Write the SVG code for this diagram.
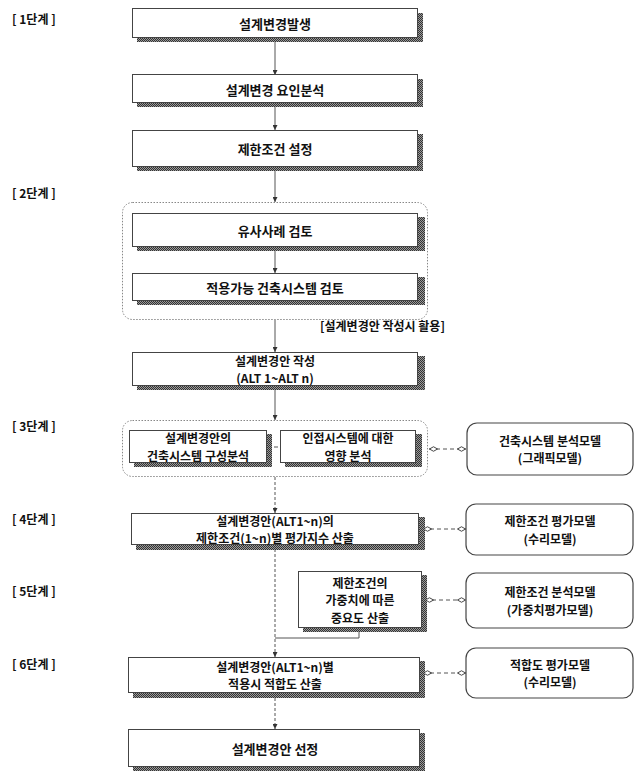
<svg xmlns="http://www.w3.org/2000/svg" width="640" height="772" viewBox="0 0 640 772">
<style>
.t{font-family:"Noto Sans CJK KR","Noto Sans",sans-serif;font-weight:bold;font-size:13px;fill:#111;text-anchor:middle;dominant-baseline:central}
.m{font-size:12px}
.s{font-family:"Noto Sans CJK KR","Noto Sans",sans-serif;font-weight:bold;font-size:12px;fill:#111;dominant-baseline:central}
.box{fill:#fff;stroke:#444;stroke-width:1}
.sh{fill:url(#dith)}
.grp{fill:none;stroke:#888;stroke-width:1;stroke-dasharray:1.5 1.5}
.mdl{fill:#fff;stroke:#444;stroke-width:1.2}
.ln{fill:none;stroke:#555;stroke-width:1}
.dl{fill:none;stroke:#555;stroke-width:1;stroke-dasharray:3 2}
.dm{fill:none;stroke:#555;stroke-width:1;stroke-dasharray:4 3}
</style>
<defs>
<pattern id="dith" width="2" height="2" patternUnits="userSpaceOnUse">
<rect width="2" height="2" fill="#9a9a9a"/>
<rect width="1" height="1" fill="#333"/>
<rect x="1" y="1" width="1" height="1" fill="#333"/>
</pattern>
<marker id="ar" viewBox="0 0 6 6" refX="6" refY="3" markerWidth="5" markerHeight="5" markerUnits="userSpaceOnUse" orient="auto">
<path d="M0,0 L6,3 L0,6 z" fill="#333"/>
</marker>
<marker id="ds" viewBox="0 0 10 6" refX="0" refY="3" markerWidth="9" markerHeight="6" markerUnits="userSpaceOnUse" orient="auto">
<path d="M0.5,3 L5,0.5 L9.5,3 L5,5.5 z" fill="#fff" stroke="#333" stroke-width="1"/>
</marker>
<marker id="de" viewBox="0 0 10 6" refX="10" refY="3" markerWidth="9" markerHeight="6" markerUnits="userSpaceOnUse" orient="auto">
<path d="M0.5,3 L5,0.5 L9.5,3 L5,5.5 z" fill="#fff" stroke="#333" stroke-width="1"/>
</marker>
</defs>

<g id="stages">
<text class="s" x="12" y="18">[ 1단계 ]</text>
<text class="s" x="12" y="192">[ 2단계 ]</text>
<text class="s" x="12" y="425">[ 3단계 ]</text>
<text class="s" x="12" y="518">[ 4단계 ]</text>
<text class="s" x="12" y="590">[ 5단계 ]</text>
<text class="s" x="12" y="663">[ 6단계 ]</text>
</g>

<g id="connectors">
<line class="ln" x1="275" y1="42" x2="275" y2="75" marker-end="url(#ar)"/>
<line class="ln" x1="275" y1="107" x2="275" y2="130" marker-end="url(#ar)"/>
<line class="ln" x1="275" y1="171" x2="275" y2="202" marker-end="url(#ar)"/>
<line class="ln" x1="275" y1="251" x2="275" y2="273" marker-end="url(#ar)"/>
<line class="ln" x1="275" y1="320" x2="275" y2="352" marker-end="url(#ar)"/>
<line class="ln" x1="275" y1="390" x2="275" y2="420" marker-end="url(#ar)"/>
<line class="dl" x1="275" y1="477" x2="275" y2="513" marker-end="url(#ar)"/>
<line class="dl" x1="275" y1="549" x2="275" y2="657" marker-end="url(#ar)"/>
<polyline class="ln" points="359,632 359,638 275,638"/>
<line class="dl" x1="275" y1="698" x2="275" y2="729" marker-end="url(#ar)"/>
<line class="dm" x1="267" y1="447" x2="280" y2="447"/>
<line class="dm" x1="429" y1="449" x2="466" y2="449" marker-start="url(#ds)" marker-end="url(#de)"/>
<line class="dm" x1="423" y1="529" x2="466" y2="529" marker-start="url(#ds)" marker-end="url(#de)"/>
<line class="dm" x1="425" y1="600" x2="466" y2="600" marker-start="url(#ds)" marker-end="url(#de)"/>
<line class="dm" x1="423" y1="673" x2="466" y2="673" marker-start="url(#ds)" marker-end="url(#de)"/>
</g>

<g id="n1">
<rect class="sh" x="137" y="13" width="286" height="29"/>
<rect class="box" x="132.5" y="8.5" width="285" height="29"/>
<text class="t" x="275" y="23">설계변경발생</text>
</g>
<g id="n2">
<rect class="sh" x="137" y="79" width="286" height="28"/>
<rect class="box" x="132.5" y="74.5" width="285" height="28"/>
<text class="t" x="275" y="89">설계변경 요인분석</text>
</g>
<g id="n3">
<rect class="sh" x="137" y="134" width="286" height="37"/>
<rect class="box" x="132.5" y="130.5" width="285" height="36"/>
<text class="t" x="275" y="148">제한조건 설정</text>
</g>

<g id="g2">
<rect class="grp" x="122.5" y="202.5" width="305" height="117" rx="10"/>
<text class="s" x="320" y="325">[설계변경안 작성시 활용]</text>
</g>
<g id="n4">
<rect class="sh" x="137" y="217" width="288" height="34"/>
<rect class="box" x="132.5" y="213.5" width="285" height="33"/>
<text class="t" x="275" y="230">유사사례 검토</text>
</g>
<g id="n5">
<rect class="sh" x="137" y="277" width="288" height="28"/>
<rect class="box" x="132.5" y="273.5" width="285" height="27"/>
<text class="t" x="275" y="287">적용가능 건축시스템 검토</text>
</g>

<g id="n6">
<rect class="sh" x="137" y="356" width="288" height="34"/>
<rect class="box" x="132.5" y="352.5" width="285" height="33"/>
<text class="t m" x="275" y="360.2">설계변경안 작성</text>
<text class="t m" x="275" y="377.8">(ALT 1~ALT n)</text>
</g>

<g id="g3">
<rect class="grp" x="122.5" y="420.5" width="305" height="56" rx="10"/>
</g>
<g id="n7">
<rect class="sh" x="134" y="434" width="138" height="33"/>
<rect class="box" x="129.5" y="430.5" width="137" height="32"/>
<text class="t m" x="198" y="437.8">설계변경안의</text>
<text class="t m" x="198" y="455.3">건축시스템 구성분석</text>
</g>
<g id="n8">
<rect class="sh" x="285" y="434" width="137" height="33"/>
<rect class="box" x="280.5" y="430.5" width="135" height="32"/>
<text class="t m" x="348" y="437.8">인접시스템에 대한</text>
<text class="t m" x="348" y="455.3">영향 분석</text>
</g>

<g id="n9">
<rect class="sh" x="136" y="517" width="289" height="33"/>
<rect class="box" x="131.5" y="513.5" width="287" height="31"/>
<text class="t m" x="275" y="520.3">설계변경안(ALT1~n)의</text>
<text class="t m" x="275" y="537.8">제한조건(1~n)별 평가지수 산출</text>
</g>

<g id="n10">
<rect class="sh" x="303" y="575" width="124" height="57"/>
<rect class="box" x="298.5" y="571.5" width="123" height="56"/>
<text class="t m" x="360" y="582">제한조건의</text>
<text class="t m" x="360" y="599.5">가중치에 따른</text>
<text class="t m" x="360" y="617">중요도 산출</text>
</g>

<g id="n11">
<rect class="sh" x="133" y="661" width="292" height="37"/>
<rect class="box" x="128.5" y="657.5" width="291" height="35"/>
<text class="t m" x="275" y="666.3">설계변경안(ALT1~n)별</text>
<text class="t m" x="275" y="683.8">적용시 적합도 산출</text>
</g>

<g id="n12">
<rect class="sh" x="133" y="733" width="292" height="38"/>
<rect class="box" x="128.5" y="729.5" width="291" height="37"/>
<text class="t" x="275" y="748">설계변경안 선정</text>
</g>

<g id="m1">
<rect class="mdl" x="467" y="423" width="166" height="52" rx="10"/>
<text class="t m" x="550" y="440.3">건축시스템 분석모델</text>
<text class="t m" x="550" y="457.8">(그래픽모델)</text>
</g>
<g id="m2">
<rect class="mdl" x="466" y="504" width="167" height="51" rx="10"/>
<text class="t m" x="550" y="520.8">제한조건 평가모델</text>
<text class="t m" x="550" y="538.3">(수리모델)</text>
</g>
<g id="m3">
<rect class="mdl" x="466" y="573" width="167" height="55" rx="10"/>
<text class="t m" x="550" y="591.8">제한조건 분석모델</text>
<text class="t m" x="550" y="609.3">(가중치평가모델)</text>
</g>
<g id="m4">
<rect class="mdl" x="466" y="648" width="167" height="50" rx="10"/>
<text class="t m" x="550" y="664.3">적합도 평가모델</text>
<text class="t m" x="550" y="681.8">(수리모델)</text>
</g>
</svg>
